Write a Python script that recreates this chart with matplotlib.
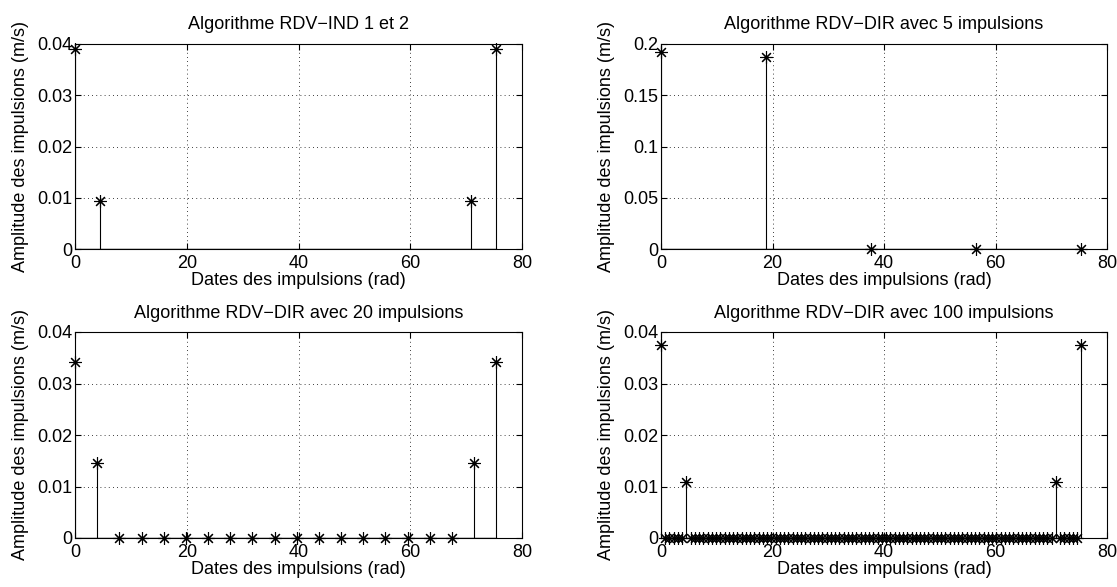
import matplotlib
matplotlib.use("Agg")
import matplotlib.pyplot as plt

plt.rcParams["font.family"] = ["Liberation Sans", "DejaVu Sans"]
plt.rcParams["font.size"] = 13

# Algorithme RDV-IND 1 et 2
dates_ind = [0.0, 4.5, 70.9, 75.4]
ampl_ind = [0.039, 0.0093, 0.0093, 0.039]

# RDV-DIR 5 impulsions
dates_5 = [0.0, 18.85, 37.70, 56.55, 75.40]
ampl_5 = [0.192, 0.187, 0.0, 0.0, 0.0]

# RDV-DIR 20 impulsions
dates_20 = [0.0, 3.97, 7.94, 11.91, 15.87, 19.84, 23.81, 27.78, 31.75, 35.72,
            39.68, 43.65, 47.62, 51.59, 55.56, 59.53, 63.49, 67.46, 71.43, 75.40]
ampl_20 = [0.0342, 0.0146, 0, 0, 0, 0, 0, 0, 0, 0,
           0, 0, 0, 0, 0, 0, 0, 0, 0.0146, 0.0342]

# RDV-DIR 100 impulsions
dates_100 = [0.00, 0.76, 1.52, 2.28, 3.05, 3.81, 4.57, 5.33, 6.09, 6.85,
             7.62, 8.38, 9.14, 9.90, 10.66, 11.42, 12.19, 12.95, 13.71, 14.47,
             15.23, 15.99, 16.76, 17.52, 18.28, 19.04, 19.80, 20.56, 21.33, 22.09,
             22.85, 23.61, 24.37, 25.13, 25.90, 26.66, 27.42, 28.18, 28.94, 29.70,
             30.47, 31.23, 31.99, 32.75, 33.51, 34.27, 35.04, 35.80, 36.56, 37.32,
             38.08, 38.84, 39.60, 40.37, 41.13, 41.89, 42.65, 43.41, 44.17, 44.94,
             45.70, 46.46, 47.22, 47.98, 48.74, 49.51, 50.27, 51.03, 51.79, 52.55,
             53.31, 54.08, 54.84, 55.60, 56.36, 57.12, 57.88, 58.65, 59.41, 60.17,
             60.93, 61.69, 62.45, 63.22, 63.98, 64.74, 65.50, 66.26, 67.02, 67.79,
             68.55, 69.31, 70.07, 70.83, 71.59, 72.36, 73.12, 73.88, 74.64, 75.40]
ampl_100 = [0.0375, 0, 0, 0, 0, 0, 0.0108, 0, 0, 0,
            0, 0, 0, 0, 0, 0, 0, 0, 0, 0,
            0, 0, 0, 0, 0, 0, 0, 0, 0, 0,
            0, 0, 0, 0, 0, 0, 0, 0, 0, 0,
            0, 0, 0, 0, 0, 0, 0, 0, 0, 0,
            0, 0, 0, 0, 0, 0, 0, 0, 0, 0,
            0, 0, 0, 0, 0, 0, 0, 0, 0, 0,
            0, 0, 0, 0, 0, 0, 0, 0, 0, 0,
            0, 0, 0, 0, 0, 0, 0, 0, 0, 0,
            0, 0, 0, 0.0108, 0, 0, 0, 0, 0, 0.0375]

W, H = 1117, 587
fig = plt.figure(figsize=(W / 100, H / 100), dpi=100)


def panel(x0, y0, x1, y1):
    # pixel box -> figure fraction
    return fig.add_axes([x0 / W, 1 - y1 / H, (x1 - x0) / W, (y1 - y0) / H])


panels = [
    (panel(75, 44, 522, 249), dates_ind, ampl_ind, "Algorithme RDV\u2212IND 1 et 2",
     [0, 0.01, 0.02, 0.03, 0.04], 0.04, 11),
    (panel(661, 44, 1107, 249), dates_5, ampl_5, "Algorithme RDV\u2212DIR avec 5 impulsions",
     [0, 0.05, 0.1, 0.15, 0.2], 0.2, 11),
    (panel(75, 332, 522, 538), dates_20, ampl_20, "Algorithme RDV\u2212DIR avec 20 impulsions",
     [0, 0.01, 0.02, 0.03, 0.04], 0.04, 10),
    (panel(661, 332, 1107, 538), dates_100, ampl_100, "Algorithme RDV\u2212DIR avec 100 impulsions",
     [0, 0.01, 0.02, 0.03, 0.04], 0.04, 10),
]

for ax, x, y, title, yt, ymax, tpad in panels:
    ml, sl, bl = ax.stem(x, y, linefmt="k-", markerfmt="k", basefmt="k-")
    plt.setp(sl, linewidth=0.8)
    plt.setp(bl, linewidth=1.0)
    ml.set_marker((8, 2, 0))
    ml.set_markersize(9)
    ml.set_markeredgewidth(0.8)
    ml.set_clip_on(False)
    ax.set_xlim(0, 80)
    ax.set_ylim(0, ymax)
    ax.set_xticks([0, 20, 40, 60, 80])
    ax.set_yticks(yt)
    ax.set_yticklabels([("%g" % v) for v in yt])
    ax.grid(True, linestyle=(0, (1, 4)), color="k", linewidth=0.6)
    ax.tick_params(direction="in", top=True, right=True, length=4, labelsize=13)
    ax.tick_params(axis="x", pad=4.5)
    ax.tick_params(axis="y", pad=2)
    for s in ax.spines.values():
        s.set_linewidth(0.8)
    ax.set_title(title, fontsize=13, pad=tpad)
    ax.set_xlabel("Dates des impulsions (rad)", labelpad=0)
    ax.set_ylabel("Amplitude des impulsions (m/s)", labelpad=6)

fig.savefig("out.png", dpi=100, facecolor="white")
